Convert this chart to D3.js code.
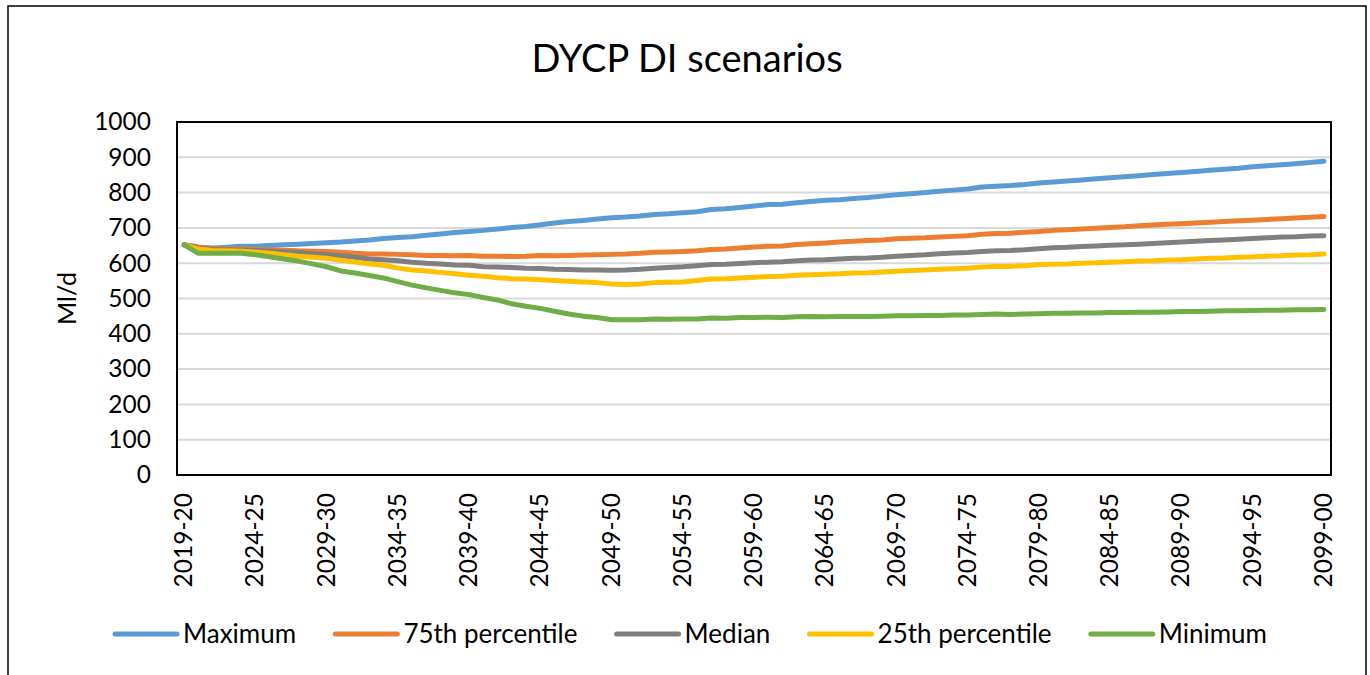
<!DOCTYPE html>
<html>
<head>
<meta charset="utf-8">
<script src="https://cdn.jsdelivr.net/npm/d3@7"></script>
<style>
  body { margin: 0; background: #fff; }
  svg { display: block; font-family: Lato, 'Open Sans', sans-serif; }
</style>
</head>
<body>
<svg id="chart" width="1370" height="675"></svg>
<script>
// year labels 2019-20 ... 2099-00
const years = []
for (let y = 2019; y <= 2099; y++) {
  years.push(y + '-' + String((y + 1) % 100).padStart(2, '0'))
}

const maximum = [652, 645, 643, 645, 648, 648, 650, 652, 654, 656, 658, 660, 663, 666, 670, 673, 675, 679, 683, 687,
  690, 693, 697, 701, 704, 709, 714, 718, 721, 725, 729, 731, 734, 738, 740, 743, 746, 752, 754, 758,
  762, 766, 767, 771, 775, 778, 780, 783, 786, 790, 794, 797, 800, 804, 807, 810, 816, 818, 820, 823,
  827, 830, 833, 836, 839, 842, 845, 848, 851, 854, 857, 860, 863, 866, 869, 873, 876, 879, 882, 885, 889]

const p75 = [652, 646, 642, 640, 640, 639, 638, 637, 635, 634, 633, 631, 628, 626, 626, 625, 624, 622, 622, 621,
  622, 620, 620, 619, 620, 622, 621, 622, 623, 624, 625, 626, 628, 631, 632, 633, 635, 639, 640, 643,
  646, 648, 649, 653, 655, 657, 660, 662, 664, 666, 669, 671, 672, 674, 676, 678, 682, 684, 685, 688,
  690, 693, 695, 697, 699, 701, 703, 706, 708, 710, 712, 714, 716, 718, 720, 722, 724, 726, 728, 730, 732]

const median = [652, 643, 639, 638, 637, 636, 634, 632, 630, 627, 624, 621, 617, 612, 610, 607, 603, 600, 598, 595,
  594, 590, 589, 588, 586, 585, 583, 582, 581, 581, 580, 581, 583, 586, 588, 590, 593, 596, 597, 599,
  601, 603, 604, 607, 609, 610, 612, 614, 615, 617, 620, 622, 624, 627, 629, 630, 633, 635, 636, 638,
  641, 644, 645, 647, 649, 651, 652, 654, 656, 658, 660, 662, 664, 666, 668, 670, 672, 674, 675, 677, 678]

const p25 = [652, 640, 636, 635, 634, 632, 628, 624, 620, 617, 614, 608, 603, 598, 594, 586, 581, 578, 574, 570,
  566, 563, 559, 556, 555, 553, 551, 549, 547, 545, 541, 540, 541, 545, 546, 547, 551, 555, 556, 558,
  560, 562, 563, 566, 567, 569, 570, 572, 573, 575, 577, 579, 581, 583, 584, 586, 589, 591, 591, 593,
  596, 597, 598, 600, 601, 603, 604, 606, 607, 609, 610, 612, 614, 615, 617, 618, 620, 621, 623, 624, 626]

const minimum = [652, 628, 628, 628, 628, 624, 618, 612, 606, 598, 590, 578, 572, 565, 558, 548, 538, 530, 523, 516,
  511, 503, 496, 485, 478, 472, 464, 456, 450, 446, 440, 440, 440, 442, 441, 442, 442, 445, 444, 446,
  446, 447, 446, 448, 449, 448, 449, 449, 449, 450, 451, 451, 452, 452, 453, 453, 455, 456, 455, 456,
  457, 458, 458, 459, 459, 460, 460, 461, 461, 462, 463, 463, 464, 465, 465, 466, 467, 467, 468, 468, 469]

const seriesNames = ['Maximum', '75th percentile', 'Median', '25th percentile', 'Minimum']
const seriesColors = ['#5b9bd5', '#ed7d31', '#7f7f7f', '#ffc000', '#70ad47']
const yTicks = [0, 100, 200, 300, 400, 500, 600, 700, 800, 900, 1000]

const series = [maximum, p75, median, p25, minimum].map((values, i) => ({
  name: seriesNames[i],
  color: seriesColors[i],
  values
}))

const plot = { left: 177, top: 122, right: 1331, bottom: 475 }

const svg = d3.select('#chart')

// chart frame
svg.append('rect')
  .attr('x', 8).attr('y', 6)
  .attr('width', 1358).attr('height', 700)
  .attr('fill', '#fff')
  .attr('stroke', '#000')
  .attr('stroke-width', 1.5)

const x = d3.scalePoint().domain(years).range([plot.left, plot.right]).padding(0.5)
const y = d3.scaleLinear().domain([0, 1000]).range([plot.bottom, plot.top])

// gridlines
svg.append('g')
  .selectAll('line')
  .data(yTicks)
  .enter()
  .append('line')
  .attr('x1', plot.left).attr('x2', plot.right)
  .attr('y1', d => y(d)).attr('y2', d => y(d))
  .attr('stroke', '#d9d9d9')
  .attr('stroke-width', 2)

// y axis
const yAxis = svg.append('g')
  .attr('transform', `translate(${plot.left - 26},0)`)
  .call(d3.axisLeft(y).tickValues(yTicks).tickFormat(d3.format('d')).tickSize(0).tickPadding(0))
yAxis.select('.domain').remove()
yAxis.selectAll('text')
  .attr('font-size', 24.5)
  .attr('font-family', 'Lato, sans-serif')
  .attr('fill', '#000')

// x axis
const xAxis = svg.append('g')
  .attr('transform', `translate(0,${plot.bottom})`)
  .call(d3.axisBottom(x).tickValues(years.filter((d, i) => i % 5 === 0)).tickSize(0))
xAxis.select('.domain').remove()
xAxis.selectAll('text')
  .attr('font-size', 24.5)
  .attr('font-family', 'Lato, sans-serif')
  .attr('fill', '#000')
  .attr('transform', 'rotate(-90)')
  .attr('text-anchor', 'end')
  .attr('x', -18)
  .attr('y', -1)
  .attr('dy', '0.35em')

// plot border
svg.append('rect')
  .attr('x', plot.left).attr('y', plot.top)
  .attr('width', plot.right - plot.left).attr('height', plot.bottom - plot.top)
  .attr('fill', 'none')
  .attr('stroke', '#000')
  .attr('stroke-width', 2)

// lines
const line = d3.line()
  .x((d, i) => x(years[i]))
  .y(d => y(d))

svg.append('g')
  .selectAll('path')
  .data(series)
  .enter()
  .append('path')
  .attr('d', d => line(d.values))
  .attr('fill', 'none')
  .attr('stroke', d => d.color)
  .attr('stroke-width', 5)
  .attr('stroke-linejoin', 'round')
  .attr('stroke-linecap', 'round')

// title
svg.append('text')
  .attr('x', 687).attr('y', 72)
  .attr('text-anchor', 'middle')
  .attr('font-size', 38)
  .attr('fill', '#000')
  .text('DYCP DI scenarios')

// y axis label
svg.append('text')
  .attr('transform', `translate(76,${(plot.top + plot.bottom) / 2}) rotate(-90)`)
  .attr('text-anchor', 'middle')
  .attr('font-size', 25)
  .attr('fill', '#000')
  .text('Ml/d')

// legend
const legend = svg.append('g')
const items = legend.selectAll('g')
  .data(series)
  .enter()
  .append('g')
items.append('line')
  .attr('x1', 0).attr('x2', 62)
  .attr('stroke', d => d.color)
  .attr('stroke-width', 5)
  .attr('stroke-linecap', 'round')
items.append('text')
  .attr('x', 68)
  .attr('dy', '0.35em')
  .attr('font-size', 26)
  .attr('fill', '#000')
  .text(d => d.name)

// spread items across the same width as the original legend
const legendLeft = 115
const legendRight = 1267
const widths = []
items.each(function() {
  widths.push(68 + d3.select(this).select('text').node().getComputedTextLength())
})
const gap = (legendRight - legendLeft - d3.sum(widths)) / (widths.length - 1)
let offset = 0
items.each(function(d, i) {
  d3.select(this).attr('transform', `translate(${offset},0)`)
  offset += widths[i] + gap
})
legend.attr('transform', `translate(${legendLeft},634)`)
</script>
</body>
</html>
